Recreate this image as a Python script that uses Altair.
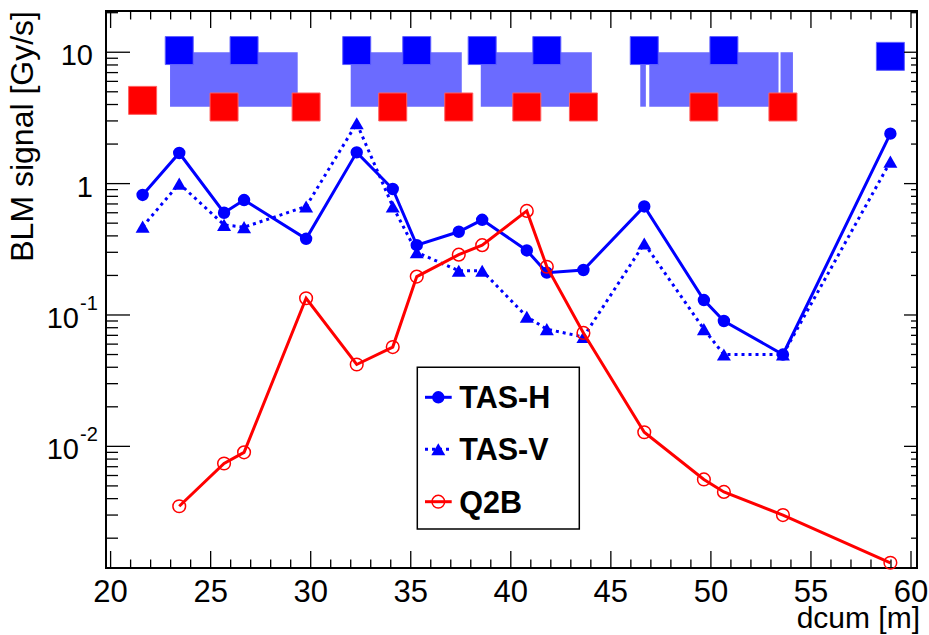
import altair as alt
import pandas as pd

# BLM positions along the beam line [m] (TAS monitors share the same positions)
dcum_tas = [21.6, 23.43, 25.67, 26.67, 29.77, 32.3, 34.1, 35.3, 37.4, 38.57,
            40.8, 41.8, 43.63, 46.67, 49.65, 50.65, 53.6, 58.97]
tas_h = [0.82, 1.71, 0.60, 0.75, 0.38, 1.73, 0.91, 0.34, 0.43, 0.53,
         0.31, 0.21, 0.22, 0.67, 0.13, 0.09, 0.05, 2.4]
tas_v = [0.47, 1.0, 0.485, 0.466, 0.67, 2.88, 0.67, 0.30, 0.217, 0.217,
         0.097, 0.078, 0.068, 0.35, 0.078, 0.05, 0.05, 1.47]

dcum_q2b = [23.43, 25.67, 26.67, 29.77, 32.3, 34.1, 35.3, 37.4, 38.57, 40.8,
            41.8, 43.63, 46.67, 49.65, 50.65, 53.6, 58.97]
q2b = [0.0035, 0.0074, 0.0090, 0.134, 0.042, 0.057, 0.196, 0.288, 0.34, 0.62,
       0.233, 0.073, 0.0128, 0.0056, 0.0045, 0.0030, 0.0013]

# BLM location markers (blue / red rows)
blm_blue_x = [23.43, 26.67, 32.3, 35.3, 38.57, 41.8, 46.67, 50.65, 58.97]
blm_blue_y = [10.3, 10.3, 10.3, 10.3, 10.3, 10.3, 10.3, 10.3, 9.3]
blm_red_x = [21.6, 25.67, 29.77, 34.1, 37.4, 40.8, 43.63, 49.65, 53.6]
blm_red_y = [4.3, 3.83, 3.83, 3.83, 3.83, 3.83, 3.83, 3.83, 3.83]

# magnet extents [m]
mag_start = [22.97, 32.0, 38.5, 46.47, 46.92, 53.48]
mag_end = [29.35, 37.55, 44.05, 46.75, 53.38, 54.1]
mag_low = 3.85
mag_high = 10.0

# axis ticks and labels
x_major = list(range(20, 61, 5))
x_minor = [v for v in range(20, 61) if v % 5]
y_dom = [0.001186, 20.6]
y_major = [0.01, 0.1, 1, 10]
y_minor = [k * 10.0 ** e for e in range(-3, 2) for k in range(2, 10)
           if y_dom[0] <= k * 10.0 ** e <= y_dom[1]]
y_plain_vals = [10, 1]
y_plain_text = ["10", "1"]
y_exp_vals = [0.1, 0.01]
y_exp_text = ["-1", "-2"]
x_title = "dcum [m]"
y_title = "BLM signal [Gy/s]"

legend_names = ["TAS-H", "TAS-V", "Q2B"]

W, H = 811, 557
FONT = "Liberation Sans"
BLUE = "#0000ff"
RED = "#ff0000"

xsc = alt.Scale(domain=[19.77, 60.3], nice=False, zero=False)
ysc = alt.Scale(type="log", domain=y_dom, nice=False)

df_tas = pd.DataFrame({"x": dcum_tas, "h": tas_h, "v": tas_v})
df_q = pd.DataFrame({"x": dcum_q2b, "y": q2b})
df_blue = pd.DataFrame({"x": blm_blue_x, "y": blm_blue_y})
df_red = pd.DataFrame({"x": blm_red_x, "y": blm_red_y})
df_mag = pd.DataFrame({"x0": mag_start, "x1": mag_end,
                       "lo": [mag_low] * len(mag_start), "hi": [mag_high] * len(mag_start)})


def X(f):
    return alt.X(f"{f}:Q", scale=xsc, axis=None)


def Y(f):
    return alt.Y(f"{f}:Q", scale=ysc, axis=None)


# magnets: blue shaded boxes
magnets = alt.Chart(df_mag).mark_rect(fill=BLUE, opacity=0.58).encode(
    x=X("x0"), x2="x1:Q", y=Y("lo"), y2="hi:Q")

blue_sq = alt.Chart(df_blue).mark_point(
    shape="square", filled=True, size=784, color=BLUE, opacity=1,
    stroke="#6060ff", strokeWidth=1).encode(x=X("x"), y=Y("y"))
red_sq = alt.Chart(df_red).mark_point(
    shape="square", filled=True, size=784, color=RED, opacity=1,
    stroke="#ff6060", strokeWidth=1).encode(x=X("x"), y=Y("y"))

v_line = alt.Chart(df_tas).mark_line(color=BLUE, strokeWidth=3, strokeDash=[3, 4]).encode(
    x=X("x"), y=Y("v"))
v_pts = alt.Chart(df_tas).mark_point(shape="triangle-up", filled=True, size=196,
                                     color=BLUE, opacity=1).encode(x=X("x"), y=Y("v"))
h_line = alt.Chart(df_tas).mark_line(color=BLUE, strokeWidth=3).encode(x=X("x"), y=Y("h"))
h_pts = alt.Chart(df_tas).mark_point(shape="circle", filled=True, size=154,
                                     color=BLUE, opacity=1).encode(x=X("x"), y=Y("h"))
q_line = alt.Chart(df_q).mark_line(color=RED, strokeWidth=3).encode(x=X("x"), y=Y("y"))
q_pts = alt.Chart(df_q).mark_point(shape="circle", filled=False, size=160, color=RED,
                                   strokeWidth=1.5, opacity=1).encode(x=X("x"), y=Y("y"))


# inward ticks on all four sides
def xticks(vals, length):
    d = pd.DataFrame({"x": vals})
    bot = alt.Chart(d).mark_rule(color="black", strokeWidth=1.3).encode(
        x=X("x"), y=alt.value(H), y2=alt.value(H - length))
    top = alt.Chart(d).mark_rule(color="black", strokeWidth=1.3).encode(
        x=X("x"), y=alt.value(0), y2=alt.value(length))
    return [bot, top]


def yticks(vals, left_len, right_len):
    d = pd.DataFrame({"y": vals})
    left = alt.Chart(d).mark_rule(color="black", strokeWidth=1.3).encode(
        y=Y("y"), x=alt.value(0), x2=alt.value(left_len))
    right = alt.Chart(d).mark_rule(color="black", strokeWidth=1.3).encode(
        y=Y("y"), x=alt.value(W), x2=alt.value(W - right_len))
    return [left, right]


ticks = xticks(x_major, 17) + xticks(x_minor, 8.5) + yticks(y_major, 24, 13) + yticks(y_minor, 12, 6)

# x tick labels
xlab = alt.Chart(pd.DataFrame({"x": x_major})).mark_text(
    font=FONT, fontSize=31, align="center", baseline="alphabetic", color="black"
).encode(x=X("x"), y=alt.value(H + 34), text=alt.Text("x:Q", format="d"))

# y tick labels with exponents
df_plain = pd.DataFrame({"y": y_plain_vals, "t": y_plain_text})
df_exp = pd.DataFrame({"y": y_exp_vals, "t": y_exp_text})
ylab_plain = alt.Chart(df_plain).mark_text(
    font=FONT, fontSize=29, align="right", baseline="alphabetic", dy=13, color="black"
).encode(y=Y("y"), x=alt.value(-13), text="t:N")
ylab_base = alt.Chart(df_exp).mark_text(
    font=FONT, fontSize=29, align="right", baseline="alphabetic", dy=13, color="black"
).encode(y=Y("y"), x=alt.value(-27), text=alt.value("10"))
ylab_exp = alt.Chart(df_exp).mark_text(
    font=FONT, fontSize=20, align="left", baseline="alphabetic", dy=-5, color="black"
).encode(y=Y("y"), x=alt.value(-26), text="t:N")

# axis titles
one = pd.DataFrame({"n": [0]})
xtitle = alt.Chart(one).mark_text(
    font=FONT, fontSize=30, align="right", baseline="alphabetic", color="black", text=x_title
).encode(x=alt.value(814), y=alt.value(H + 60))
ytitle = alt.Chart(one).mark_text(
    font=FONT, fontSize=32, align="right", baseline="alphabetic", color="black",
    angle=270, text=y_title
).encode(x=alt.value(-72.7), y=alt.value(0))

# legend box
lx0, lx1, ly0, ly1 = 311.3, 473.3, 356.3, 518
row_y = [386.3, 438.3, 490.7]
legend_box = alt.Chart(one).mark_rect(
    fill="white", stroke="black", strokeWidth=1.5).encode(
    x=alt.value(lx0), x2=alt.value(lx1), y=alt.value(ly0), y2=alt.value(ly1))


def legend_row(i, color, dash, shape, filled, size):
    d = pd.DataFrame({"name": [legend_names[i]]})
    line_kw = dict(color=color, strokeWidth=3)
    if dash:
        line_kw["strokeDash"] = dash
    ln = alt.Chart(d).mark_rule(**line_kw).encode(
        x=alt.value(319), x2=alt.value(345.7), y=alt.value(row_y[i]))
    pt_kw = dict(shape=shape, filled=filled, size=size, color=color, opacity=1)
    if not filled:
        pt_kw["strokeWidth"] = 1.5
    pt = alt.Chart(d).mark_point(**pt_kw).encode(x=alt.value(332.3), y=alt.value(row_y[i]))
    tx = alt.Chart(d).mark_text(font=FONT, fontSize=30.5, fontWeight="bold", align="left",
                                baseline="alphabetic", dy=11, color="black").encode(
        x=alt.value(353.3), y=alt.value(row_y[i]), text="name:N")
    return [ln, pt, tx]


legend = ([legend_box]
          + legend_row(0, BLUE, None, "circle", True, 154)
          + legend_row(1, BLUE, [3, 4], "triangle-up", True, 196)
          + legend_row(2, RED, None, "circle", False, 160))

chart = alt.layer(
    magnets, blue_sq, red_sq,
    v_line, v_pts, h_line, h_pts, q_line, q_pts,
    *ticks, xlab, ylab_plain, ylab_base, ylab_exp, xtitle, ytitle, *legend,
).properties(
    width=W, height=H, autosize="none",
    padding={"left": 106, "top": 11, "right": 12, "bottom": 67},
    background="white",
).configure_view(stroke="black", strokeWidth=2)

chart.save("out.html", embed_options={"renderer": "svg", "actions": False})
